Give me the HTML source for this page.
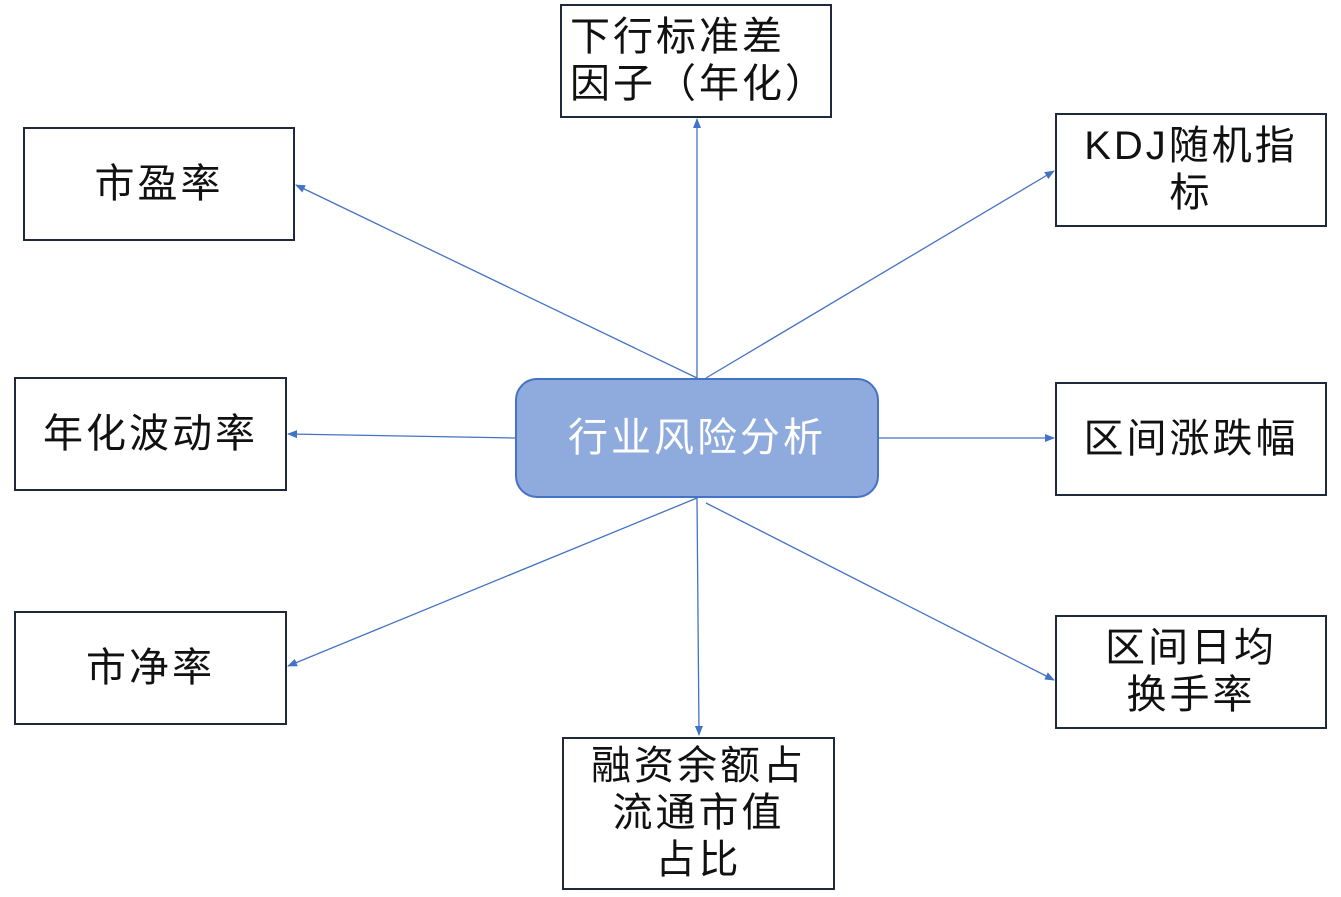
<!DOCTYPE html>
<html><head><meta charset="utf-8"><style>
body{margin:0;width:1341px;height:897px;background:#fff;position:relative;overflow:hidden;font-family:"Liberation Sans","Noto Sans CJK SC",sans-serif;}
.b{position:absolute;box-sizing:border-box;border:2px solid #1e2a3a;background:#fff;display:flex;align-items:center;justify-content:center;text-align:center;font-size:40px;letter-spacing:3px;line-height:47px;color:#111;}
</style></head><body>
<svg width="1341" height="897" style="position:absolute;left:0;top:0">
<defs><marker id="a" markerWidth="10" markerHeight="8" refX="9" refY="4" orient="auto" markerUnits="userSpaceOnUse"><path d="M0,0 L10,4 L0,8 z" fill="#4472c4"/></marker></defs>
<g stroke="#4472c4" stroke-width="1.3" fill="none" marker-end="url(#a)">
<line x1="697" y1="378" x2="697" y2="119"/>
<line x1="697" y1="378" x2="296" y2="185"/>
<line x1="706" y1="378" x2="1054" y2="171"/>
<line x1="515" y1="438" x2="288" y2="434"/>
<line x1="878" y1="438" x2="1054" y2="438"/>
<line x1="697" y1="498" x2="288" y2="666"/>
<line x1="697" y1="498" x2="699" y2="735"/>
<line x1="706" y1="503" x2="1054" y2="680"/>
</g></svg>
<div class="b" style="left:560px;top:4px;width:272px;height:114px;text-align:left;justify-content:flex-start;padding-left:8px">下行标准差<br>因子（年化）</div>
<div class="b" style="left:23px;top:127px;width:272px;height:114px">市盈率</div>
<div class="b" style="left:1055px;top:113px;width:272px;height:114px">KDJ随机指<br>标</div>
<div class="b" style="left:14px;top:377px;width:273px;height:114px">年化波动率</div>
<div class="b" style="left:515px;top:378px;width:364px;height:120px;border-radius:22px;background:#8faadc;border-color:#4472c4;color:#fff">行业风险分析</div>
<div class="b" style="left:1055px;top:382px;width:272px;height:114px">区间涨跌幅</div>
<div class="b" style="left:14px;top:611px;width:273px;height:114px">市净率</div>
<div class="b" style="left:1055px;top:615px;width:272px;height:114px">区间日均<br>换手率</div>
<div class="b" style="left:562px;top:737px;width:273px;height:153px">融资余额占<br>流通市值<br>占比</div>
</body></html>
